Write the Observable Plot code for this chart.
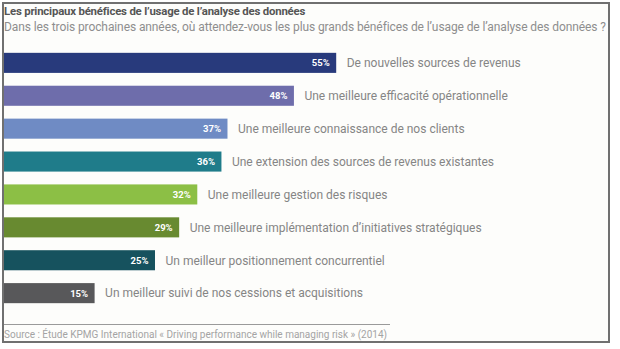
<!DOCTYPE html>
<html><head><meta charset="utf-8">
<script src="https://cdn.jsdelivr.net/npm/d3@7"></script>
<script src="https://cdn.jsdelivr.net/npm/@observablehq/plot@0.6"></script>
<style>
body{margin:0;background:#fff;}
#wrap{position:relative;width:620px;height:349px;overflow:hidden;font-family:Roboto,"Liberation Sans",sans-serif;}
#frame{position:absolute;left:2px;top:2px;width:608px;height:341px;box-sizing:border-box;border:2px solid #707070;background:#fdfdfb;}
#title{position:absolute;left:4px;top:4px;font-size:11.4px;font-weight:bold;color:#555;white-space:nowrap;letter-spacing:-0.2px;}
#subtitle{position:absolute;left:4px;top:20px;font-size:12px;color:#8e8e8e;white-space:nowrap;letter-spacing:-0.1px;}
#chart{position:absolute;left:4px;top:40px;line-height:0;}
#rule{position:absolute;left:4px;top:324px;width:386px;height:1px;background:#9a9a9a;}
#caption{position:absolute;left:4px;top:329px;font-size:10px;color:#a4a4a4;white-space:nowrap;}
</style></head>
<body>
<div id="wrap">
  <div id="frame"></div>
  <div id="title"></div>
  <div id="subtitle"></div>
  <div id="chart"></div>
  <div id="rule"></div>
  <div id="caption"></div>
</div>
<script>
const titleText = "Les principaux bénéfices de l’usage de l’analyse des données";
const subtitleText = "Dans les trois prochaines années, où attendez-vous les plus grands bénéfices de l’usage de l’analyse des données ?";
const captionText = "Source : Étude KPMG International « Driving performance while managing risk » (2014)";

const categories = [
  "De nouvelles sources de revenus",
  "Une meilleure efficacité opérationnelle",
  "Une meilleure connaissance de nos clients",
  "Une extension des sources de revenus existantes",
  "Une meilleure gestion des risques",
  "Une meilleure implémentation d’initiatives stratégiques",
  "Un meilleur positionnement concurrentiel",
  "Un meilleur suivi de nos cessions et acquisitions"
];
const values = [55, 48, 37, 36, 32, 29, 25, 15];
const palette = ["#283a7c", "#6e6dab", "#6f8bc4", "#1f7c8a", "#8cbf45", "#688a30", "#16525e", "#58585a"];

document.getElementById("title").textContent = titleText;
document.getElementById("subtitle").textContent = subtitleText;
document.getElementById("caption").textContent = captionText;

const data = categories.map((c, i) => ({category: c, value: values[i]}));

const chart = Plot.plot({
  width: 604,
  height: 276,
  margin: 0,
  x: {domain: [0, 100], axis: null},
  y: {domain: categories, axis: null, padding: 0.39, round: false},
  color: {domain: categories, range: palette},
  style: {background: "transparent", fontFamily: "Roboto, 'Liberation Sans', sans-serif"},
  marks: [
    Plot.barX(data, {x: "value", y: "category", fill: "category"}),
    Plot.text(data, {x: "value", y: "category", text: d => d.value + "%", textAnchor: "end", dx: -7, fill: "white", fontWeight: "bold", fontSize: 9.5}),
    Plot.text(data, {x: "value", y: "category", text: "category", textAnchor: "start", dx: 10, fill: "#858585", fontSize: 12})
  ]
});
document.getElementById("chart").appendChild(chart);
</script>
</body></html>
